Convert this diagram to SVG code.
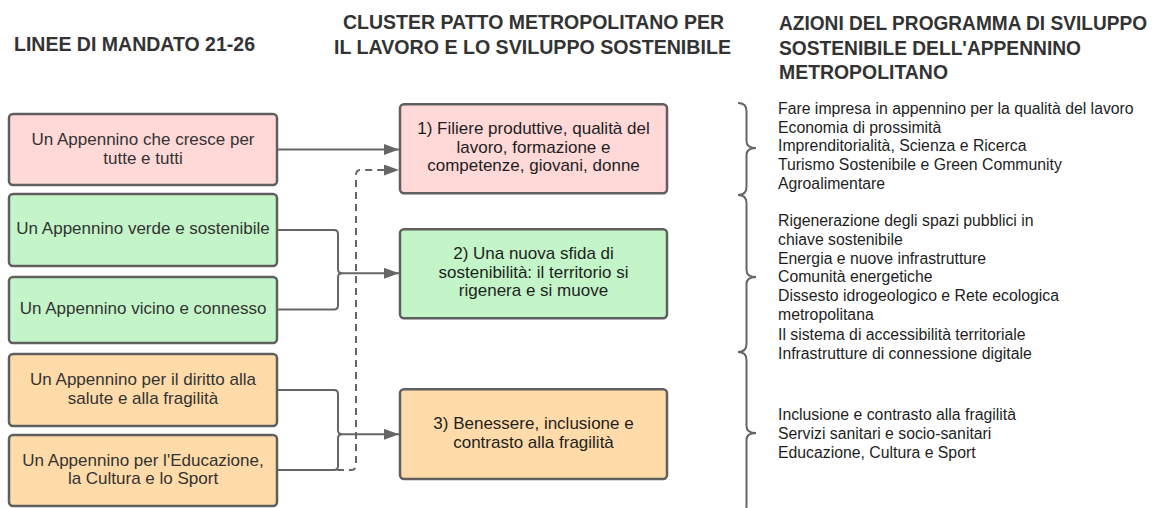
<svg xmlns="http://www.w3.org/2000/svg" width="1159" height="508" viewBox="0 0 1159 508">
<style>
.hdr{font-family:"Liberation Sans Narrow","Liberation Sans",Arial,sans-serif;font-weight:bold;font-size:19.5px;fill:#333;}
.box{stroke:#5f5f5f;stroke-width:2.5;}
.pink{fill:#ffd8d8;}
.green{fill:#c3f5c8;}
.orange{fill:#fedba8;}
.lt{font-family:"Liberation Sans",Arial,sans-serif;font-size:17px;fill:#333;text-anchor:middle;}
.mt{font-family:"Liberation Sans",Arial,sans-serif;font-size:17px;fill:#1e1e1e;text-anchor:middle;}
.rt{font-family:"Liberation Sans",Arial,sans-serif;font-size:15.8px;fill:#1e1e1e;}
.con{fill:none;stroke:#666;stroke-width:2;}
.dash{stroke-dasharray:7 5;}
.brace{fill:none;stroke:#666;stroke-width:2;}
</style>
<defs>
<marker id="arr" markerUnits="userSpaceOnUse" markerWidth="16" markerHeight="12" refX="15" refY="5.5" orient="auto">
<path d="M0,0 L15,5.5 L0,11 z" fill="#666"/>
</marker>
</defs>

<g id="headers">
<text class="hdr" x="14" y="51" textLength="241" lengthAdjust="spacingAndGlyphs">LINEE DI MANDATO 21-26</text>
<text class="hdr" x="343" y="29" textLength="381" lengthAdjust="spacingAndGlyphs">CLUSTER PATTO METROPOLITANO PER</text>
<text class="hdr" x="334" y="54" textLength="397" lengthAdjust="spacingAndGlyphs">IL LAVORO E LO SVILUPPO SOSTENIBILE</text>
<text class="hdr" x="779" y="30" textLength="368" lengthAdjust="spacingAndGlyphs">AZIONI DEL PROGRAMMA DI SVILUPPO</text>
<text class="hdr" x="779" y="55" textLength="302" lengthAdjust="spacingAndGlyphs">SOSTENIBILE DELL'APPENNINO</text>
<text class="hdr" x="779" y="79" textLength="169" lengthAdjust="spacingAndGlyphs">METROPOLITANO</text>
</g>

<g id="connectors">
<path class="con dash" d="M277,470 H351 Q356,470 356,465 V175 Q356,170 361,170 H399" marker-end="url(#arr)"/>
<path class="con" d="M277,149.5 H399" marker-end="url(#arr)"/>
<path class="con" d="M277,230 H334 Q338,230 338,234 V269.3 Q338,273.3 342,273.3 H399" marker-end="url(#arr)"/>
<path class="con" d="M277,309.5 H334 Q338,309.5 338,305.5 V277.3 Q338,273.3 342,273.3"/>
<path class="con" d="M277,390 H334 Q338,390 338,394 V430.3 Q338,434.3 342,434.3 H399" marker-end="url(#arr)"/>
<path class="con" d="M277,470 H334 Q338,470 338,466 V438.3 Q338,434.3 342,434.3"/>
</g>

<g id="n-cresce">
<rect class="box pink" x="9" y="114" width="268" height="71" rx="4"/>
<text class="lt" x="143" y="145">Un Appennino che cresce per</text>
<text class="lt" x="143" y="163.5">tutte e tutti</text>
</g>
<g id="n-verde">
<rect class="box green" x="9" y="194" width="268" height="72" rx="4"/>
<text class="lt" x="143" y="234.3">Un Appennino verde e sostenibile</text>
</g>
<g id="n-vicino">
<rect class="box green" x="9" y="277" width="268" height="66" rx="4"/>
<text class="lt" x="143" y="314">Un Appennino vicino e connesso</text>
</g>
<g id="n-salute">
<rect class="box orange" x="9" y="354" width="268" height="72" rx="4"/>
<text class="lt" x="143" y="385.3">Un Appennino per il diritto alla</text>
<text class="lt" x="143" y="403.7">salute e alla fragilità</text>
</g>
<g id="n-educazione">
<rect class="box orange" x="9" y="435" width="268" height="71" rx="4"/>
<text class="lt" x="143" y="466">Un Appennino per l'Educazione,</text>
<text class="lt" x="143" y="483.7">la Cultura e lo Sport</text>
</g>

<g id="c-filiere">
<rect class="box pink" x="400" y="104.3" width="267" height="89" rx="4"/>
<text class="mt" x="533.5" y="134.3">1) Filiere produttive, qualità del</text>
<text class="mt" x="533.5" y="152.7">lavoro, formazione e</text>
<text class="mt" x="533.5" y="171">competenze, giovani, donne</text>
</g>
<g id="c-sostenibilita">
<rect class="box green" x="400" y="229.3" width="267" height="89" rx="4"/>
<text class="mt" x="533.5" y="258.7">2) Una nuova sfida di</text>
<text class="mt" x="533.5" y="277.7">sostenibilità: il territorio si</text>
<text class="mt" x="533.5" y="296">rigenera e si muove</text>
</g>
<g id="c-benessere">
<rect class="box orange" x="400" y="389.3" width="267" height="89.7" rx="4"/>
<text class="mt" x="533.5" y="429.3">3) Benessere, inclusione e</text>
<text class="mt" x="533.5" y="447.7">contrasto alla fragilità</text>
</g>

<g id="braces">
<path class="brace" d="M738,103 Q746.5,103 746.5,111 V141 Q746.5,148 756,148 Q746.5,148 746.5,155 V187 Q746.5,195 738,195"/>
<path class="brace" d="M738,195 Q746.5,195 746.5,203 V270 Q746.5,277 756,277 Q746.5,277 746.5,284 V344 Q746.5,352 738,352"/>
<path class="brace" d="M738,352 Q746.5,352 746.5,360 V426 Q746.5,433 756,433 Q746.5,433 746.5,440 V506 Q746.5,514 738,514"/>
</g>

<g id="azioni">
<text class="rt" x="778" y="114">Fare impresa in appennino per la qualità del lavoro</text>
<text class="rt" x="778" y="132.7">Economia di prossimità</text>
<text class="rt" x="778" y="151.4">Imprenditorialità, Scienza e Ricerca</text>
<text class="rt" x="778" y="170.1">Turismo Sostenibile e Green Community</text>
<text class="rt" x="778" y="188.8">Agroalimentare</text>
<text class="rt" x="778" y="225.5">Rigenerazione degli spazi pubblici in</text>
<text class="rt" x="778" y="244.5">chiave sostenibile</text>
<text class="rt" x="778" y="263.5">Energia e nuove infrastrutture</text>
<text class="rt" x="778" y="282.4">Comunità energetiche</text>
<text class="rt" x="778" y="301.3">Dissesto idrogeologico e Rete ecologica</text>
<text class="rt" x="778" y="320.4">metropolitana</text>
<text class="rt" x="778" y="339.5">Il sistema di accessibilità territoriale</text>
<text class="rt" x="778" y="358.6">Infrastrutture di connessione digitale</text>
<text class="rt" x="778" y="419.8">Inclusione e contrasto alla fragilità</text>
<text class="rt" x="778" y="438.8">Servizi sanitari e socio-sanitari</text>
<text class="rt" x="778" y="457.8">Educazione, Cultura e Sport</text>
</g>
</svg>
